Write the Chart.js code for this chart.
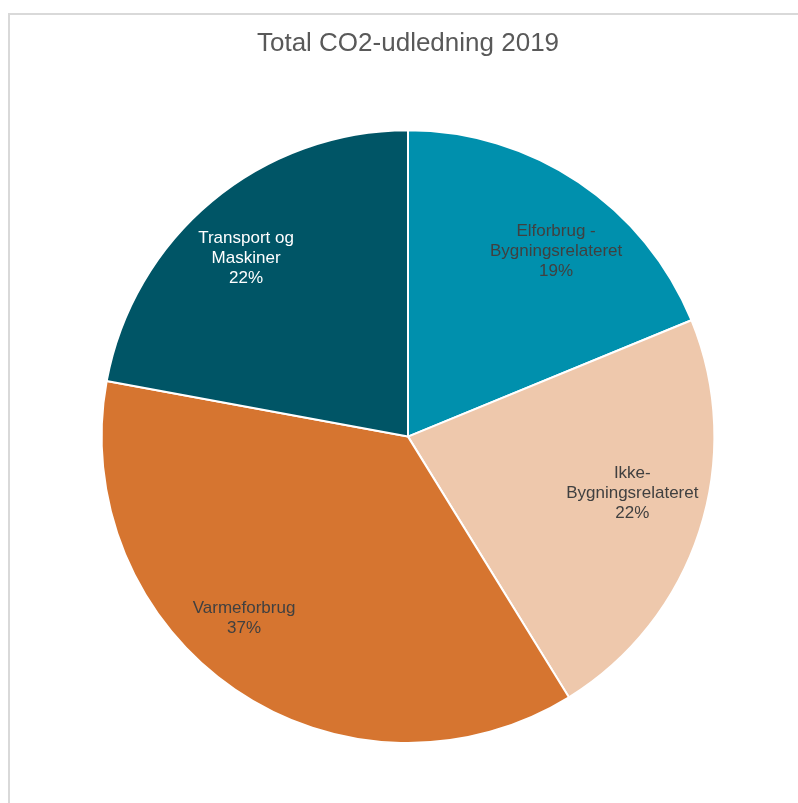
<!DOCTYPE html>
<html>
<head>
<meta charset="utf-8">
<script src="https://cdn.jsdelivr.net/npm/chart.js@4"></script>
<style>
  html, body { margin: 0; padding: 0; background: #fff; }
  body { width: 798px; height: 803px; position: relative; overflow: hidden; }
  .frame { position: absolute; left: 8px; top: 13px; right: -5px; bottom: -5px; border-left: 2px solid #d9d9d9; border-top: 2px solid #d9d9d9; }
  .wrap { position: absolute; left: 0; top: 0; width: 798px; height: 803px; }
</style>
</head>
<body>
<div class="frame"></div>
<div class="wrap"><canvas id="pie"></canvas></div>
<script>
const categories = [
  ['Elforbrug -', 'Bygningsrelateret'],
  ['Ikke-', 'Bygningsrelateret'],
  ['Varmeforbrug'],
  ['Transport og', 'Maskiner']
];
const shares = [18.8, 22.4, 36.7, 22.1];
const percentLabels = ['19%', '22%', '37%', '22%'];

const sliceColors = ['#0090ad', '#eec8ac', '#d67530', '#005566'];
const labelColors = ['#404040', '#404040', '#404040', '#ffffff'];
// nudges so labels sit where the original put them
const labelNudge = [[15, 13], [-3, -17], [-29, -16], [-9, 5]];

const sliceLabels = {
  id: 'sliceLabels',
  afterDatasetsDraw(chart) {
    const ctx = chart.ctx;
    const meta = chart.getDatasetMeta(0);
    ctx.save();
    ctx.font = '17px "Liberation Sans", Arial, sans-serif';
    ctx.textAlign = 'center';
    ctx.textBaseline = 'middle';
    meta.data.forEach((arc, i) => {
      const p = arc.getProps(['x', 'y', 'startAngle', 'endAngle', 'outerRadius'], true);
      const mid = (p.startAngle + p.endAngle) / 2;
      const r = p.outerRadius * 0.78;
      const cx = p.x + Math.cos(mid) * r + labelNudge[i][0];
      const cy = p.y + Math.sin(mid) * r + labelNudge[i][1];
      const lines = categories[i].concat([percentLabels[i]]);
      const lh = 20;
      const top = cy - (lines.length - 1) * lh / 2;
      ctx.fillStyle = labelColors[i];
      lines.forEach((t, k) => ctx.fillText(t, cx, top + k * lh));
    });
    ctx.restore();
  }
};

new Chart(document.getElementById('pie'), {
  type: 'pie',
  data: {
    labels: categories.map(c => c.join(' ')),
    datasets: [{ data: shares, backgroundColor: sliceColors, borderColor: '#ffffff', borderWidth: 2 }]
  },
  options: {
    responsive: true,
    maintainAspectRatio: false,
    animation: false,
    layout: { padding: { left: 100, right: 82, top: 0, bottom: 59 } },
    plugins: {
      legend: { display: false },
      tooltip: { enabled: false },
      title: {
        display: true,
        text: 'Total CO2-udledning 2019',
        color: '#595959',
        font: { family: '"Liberation Sans", Arial, sans-serif', size: 26, weight: 'normal' },
        padding: { top: 28, bottom: 70 }
      }
    }
  },
  plugins: [sliceLabels]
});
</script>
</body>
</html>
